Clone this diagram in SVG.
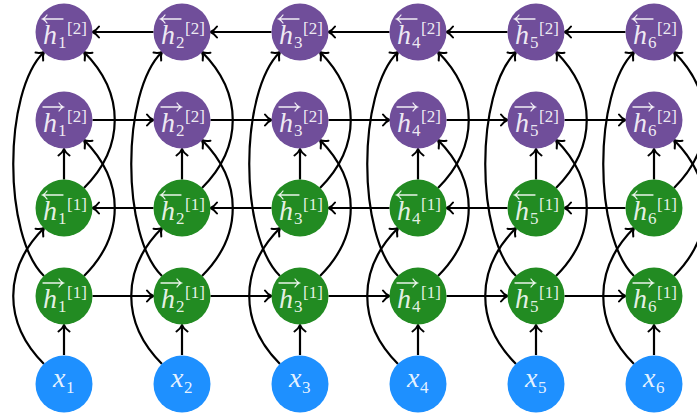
<svg xmlns="http://www.w3.org/2000/svg" width="697" height="415" viewBox="0 0 697 415" font-family="Liberation Serif, DejaVu Serif, serif">
<style>
.c{fill:none;stroke:#000;stroke-width:2.2;marker-end:url(#a)}
.pu{fill:#704e9a}.gr{fill:#228b22}.bl{fill:#1e90ff}
.oa{fill:none;stroke:#fff;stroke-opacity:.9;stroke-width:1.3;stroke-linecap:round}
text{fill:#fff;fill-opacity:.9}
.h{font-style:italic;font-size:28px}
.s{font-size:17px}
</style>
<defs>
<marker id="a" viewBox="-9 -8 11 16" markerWidth="11" markerHeight="16" refX="0" refY="0" orient="auto" markerUnits="userSpaceOnUse">
<path d="M-6.5,-5.5C-4,-2 -1.5,-0.6 0,0C-1.5,0.6 -4,2 -6.5,5.5" fill="none" stroke="#000" stroke-width="2" stroke-linecap="round"/>
</marker>
<g id="col">
<path class="c" d="M-20,364C-61,323 -61,269 -20,228"/>
<path class="c" d="M-20,276C-61,236 -61,92 -20,52"/>
<path class="c" d="M20,276C61,235 61,181 20,140"/>
<path class="c" d="M20,188C61,147 61,93 20,52"/>
<path class="c" d="M0,355V325"/>
<path class="c" d="M0,179.5V149"/>
</g>
<g id="hor">
<path class="c" d="M89.5,32H28.5"/>
<path class="c" d="M28.5,120H89.5"/>
<path class="c" d="M89.5,208H28.5"/>
<path class="c" d="M28.5,296H89.5"/>
</g>
</defs>
<g id="connectors">
<use href="#col" x="64"/><use href="#col" x="182"/><use href="#col" x="300"/><use href="#col" x="418"/><use href="#col" x="536"/><use href="#col" x="654"/>
<use href="#hor" x="64"/><use href="#hor" x="182"/><use href="#hor" x="300"/><use href="#hor" x="418"/><use href="#hor" x="536"/>
</g>
<g id="x1" transform="translate(64,384)"><circle r="28.5" class="bl"/><text class="h" x="-11" y="3">x</text><text class="s" x="2" y="9">1</text></g>
<g id="x2" transform="translate(182,384)"><circle r="28.5" class="bl"/><text class="h" x="-11" y="3">x</text><text class="s" x="2" y="9">2</text></g>
<g id="x3" transform="translate(300,384)"><circle r="28.5" class="bl"/><text class="h" x="-11" y="3">x</text><text class="s" x="2" y="9">3</text></g>
<g id="x4" transform="translate(418,384)"><circle r="28.5" class="bl"/><text class="h" x="-11" y="3">x</text><text class="s" x="2" y="9">4</text></g>
<g id="x5" transform="translate(536,384)"><circle r="28.5" class="bl"/><text class="h" x="-11" y="3">x</text><text class="s" x="2" y="9">5</text></g>
<g id="x6" transform="translate(654,384)"><circle r="28.5" class="bl"/><text class="h" x="-11" y="3">x</text><text class="s" x="2" y="9">6</text></g>

<g id="hf1_1" transform="translate(64,296)"><circle r="28.5" class="gr"/><path class="oa" d="M-21,-13H-1M-5,-17Q-3,-14 -0.5,-13Q-3,-12 -5,-9"/><text class="h" x="-21" y="12">h</text><text class="s" x="-6" y="16">1</text><text class="s" x="3" y="2">[1]</text></g>
<g id="hf1_2" transform="translate(182,296)"><circle r="28.5" class="gr"/><path class="oa" d="M-21,-13H-1M-5,-17Q-3,-14 -0.5,-13Q-3,-12 -5,-9"/><text class="h" x="-21" y="12">h</text><text class="s" x="-6" y="16">2</text><text class="s" x="3" y="2">[1]</text></g>
<g id="hf1_3" transform="translate(300,296)"><circle r="28.5" class="gr"/><path class="oa" d="M-21,-13H-1M-5,-17Q-3,-14 -0.5,-13Q-3,-12 -5,-9"/><text class="h" x="-21" y="12">h</text><text class="s" x="-6" y="16">3</text><text class="s" x="3" y="2">[1]</text></g>
<g id="hf1_4" transform="translate(418,296)"><circle r="28.5" class="gr"/><path class="oa" d="M-21,-13H-1M-5,-17Q-3,-14 -0.5,-13Q-3,-12 -5,-9"/><text class="h" x="-21" y="12">h</text><text class="s" x="-6" y="16">4</text><text class="s" x="3" y="2">[1]</text></g>
<g id="hf1_5" transform="translate(536,296)"><circle r="28.5" class="gr"/><path class="oa" d="M-21,-13H-1M-5,-17Q-3,-14 -0.5,-13Q-3,-12 -5,-9"/><text class="h" x="-21" y="12">h</text><text class="s" x="-6" y="16">5</text><text class="s" x="3" y="2">[1]</text></g>
<g id="hf1_6" transform="translate(654,296)"><circle r="28.5" class="gr"/><path class="oa" d="M-21,-13H-1M-5,-17Q-3,-14 -0.5,-13Q-3,-12 -5,-9"/><text class="h" x="-21" y="12">h</text><text class="s" x="-6" y="16">6</text><text class="s" x="3" y="2">[1]</text></g>

<g id="hb1_1" transform="translate(64,208)"><circle r="28.5" class="gr"/><path class="oa" d="M-1,-13H-21M-17,-17Q-19,-14 -21.5,-13Q-19,-12 -17,-9"/><text class="h" x="-21" y="12">h</text><text class="s" x="-6" y="16">1</text><text class="s" x="3" y="2">[1]</text></g>
<g id="hb1_2" transform="translate(182,208)"><circle r="28.5" class="gr"/><path class="oa" d="M-1,-13H-21M-17,-17Q-19,-14 -21.5,-13Q-19,-12 -17,-9"/><text class="h" x="-21" y="12">h</text><text class="s" x="-6" y="16">2</text><text class="s" x="3" y="2">[1]</text></g>
<g id="hb1_3" transform="translate(300,208)"><circle r="28.5" class="gr"/><path class="oa" d="M-1,-13H-21M-17,-17Q-19,-14 -21.5,-13Q-19,-12 -17,-9"/><text class="h" x="-21" y="12">h</text><text class="s" x="-6" y="16">3</text><text class="s" x="3" y="2">[1]</text></g>
<g id="hb1_4" transform="translate(418,208)"><circle r="28.5" class="gr"/><path class="oa" d="M-1,-13H-21M-17,-17Q-19,-14 -21.5,-13Q-19,-12 -17,-9"/><text class="h" x="-21" y="12">h</text><text class="s" x="-6" y="16">4</text><text class="s" x="3" y="2">[1]</text></g>
<g id="hb1_5" transform="translate(536,208)"><circle r="28.5" class="gr"/><path class="oa" d="M-1,-13H-21M-17,-17Q-19,-14 -21.5,-13Q-19,-12 -17,-9"/><text class="h" x="-21" y="12">h</text><text class="s" x="-6" y="16">5</text><text class="s" x="3" y="2">[1]</text></g>
<g id="hb1_6" transform="translate(654,208)"><circle r="28.5" class="gr"/><path class="oa" d="M-1,-13H-21M-17,-17Q-19,-14 -21.5,-13Q-19,-12 -17,-9"/><text class="h" x="-21" y="12">h</text><text class="s" x="-6" y="16">6</text><text class="s" x="3" y="2">[1]</text></g>

<g id="hf2_1" transform="translate(64,120)"><circle r="28.5" class="pu"/><path class="oa" d="M-21,-13H-1M-5,-17Q-3,-14 -0.5,-13Q-3,-12 -5,-9"/><text class="h" x="-21" y="12">h</text><text class="s" x="-6" y="16">1</text><text class="s" x="3" y="2">[2]</text></g>
<g id="hf2_2" transform="translate(182,120)"><circle r="28.5" class="pu"/><path class="oa" d="M-21,-13H-1M-5,-17Q-3,-14 -0.5,-13Q-3,-12 -5,-9"/><text class="h" x="-21" y="12">h</text><text class="s" x="-6" y="16">2</text><text class="s" x="3" y="2">[2]</text></g>
<g id="hf2_3" transform="translate(300,120)"><circle r="28.5" class="pu"/><path class="oa" d="M-21,-13H-1M-5,-17Q-3,-14 -0.5,-13Q-3,-12 -5,-9"/><text class="h" x="-21" y="12">h</text><text class="s" x="-6" y="16">3</text><text class="s" x="3" y="2">[2]</text></g>
<g id="hf2_4" transform="translate(418,120)"><circle r="28.5" class="pu"/><path class="oa" d="M-21,-13H-1M-5,-17Q-3,-14 -0.5,-13Q-3,-12 -5,-9"/><text class="h" x="-21" y="12">h</text><text class="s" x="-6" y="16">4</text><text class="s" x="3" y="2">[2]</text></g>
<g id="hf2_5" transform="translate(536,120)"><circle r="28.5" class="pu"/><path class="oa" d="M-21,-13H-1M-5,-17Q-3,-14 -0.5,-13Q-3,-12 -5,-9"/><text class="h" x="-21" y="12">h</text><text class="s" x="-6" y="16">5</text><text class="s" x="3" y="2">[2]</text></g>
<g id="hf2_6" transform="translate(654,120)"><circle r="28.5" class="pu"/><path class="oa" d="M-21,-13H-1M-5,-17Q-3,-14 -0.5,-13Q-3,-12 -5,-9"/><text class="h" x="-21" y="12">h</text><text class="s" x="-6" y="16">6</text><text class="s" x="3" y="2">[2]</text></g>

<g id="hb2_1" transform="translate(64,32)"><circle r="28.5" class="pu"/><path class="oa" d="M-1,-13H-21M-17,-17Q-19,-14 -21.5,-13Q-19,-12 -17,-9"/><text class="h" x="-21" y="12">h</text><text class="s" x="-6" y="16">1</text><text class="s" x="3" y="2">[2]</text></g>
<g id="hb2_2" transform="translate(182,32)"><circle r="28.5" class="pu"/><path class="oa" d="M-1,-13H-21M-17,-17Q-19,-14 -21.5,-13Q-19,-12 -17,-9"/><text class="h" x="-21" y="12">h</text><text class="s" x="-6" y="16">2</text><text class="s" x="3" y="2">[2]</text></g>
<g id="hb2_3" transform="translate(300,32)"><circle r="28.5" class="pu"/><path class="oa" d="M-1,-13H-21M-17,-17Q-19,-14 -21.5,-13Q-19,-12 -17,-9"/><text class="h" x="-21" y="12">h</text><text class="s" x="-6" y="16">3</text><text class="s" x="3" y="2">[2]</text></g>
<g id="hb2_4" transform="translate(418,32)"><circle r="28.5" class="pu"/><path class="oa" d="M-1,-13H-21M-17,-17Q-19,-14 -21.5,-13Q-19,-12 -17,-9"/><text class="h" x="-21" y="12">h</text><text class="s" x="-6" y="16">4</text><text class="s" x="3" y="2">[2]</text></g>
<g id="hb2_5" transform="translate(536,32)"><circle r="28.5" class="pu"/><path class="oa" d="M-1,-13H-21M-17,-17Q-19,-14 -21.5,-13Q-19,-12 -17,-9"/><text class="h" x="-21" y="12">h</text><text class="s" x="-6" y="16">5</text><text class="s" x="3" y="2">[2]</text></g>
<g id="hb2_6" transform="translate(654,32)"><circle r="28.5" class="pu"/><path class="oa" d="M-1,-13H-21M-17,-17Q-19,-14 -21.5,-13Q-19,-12 -17,-9"/><text class="h" x="-21" y="12">h</text><text class="s" x="-6" y="16">6</text><text class="s" x="3" y="2">[2]</text></g>
</svg>
